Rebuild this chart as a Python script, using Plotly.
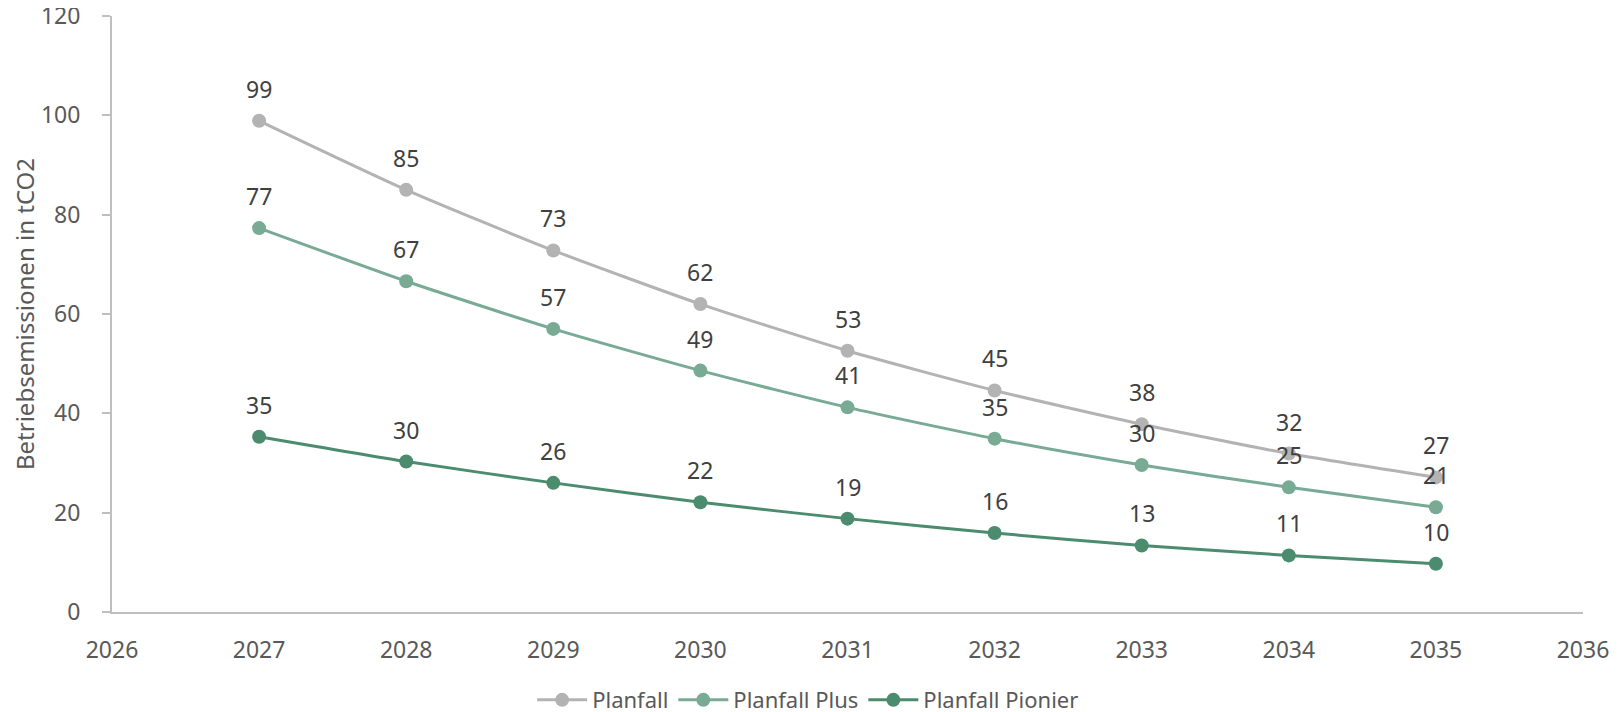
import plotly.graph_objects as go

years = [2027, 2028, 2029, 2030, 2031, 2032, 2033, 2034, 2035]
planfall = [98.9, 85.0, 72.8, 62.0, 52.6, 44.6, 37.8, 31.9, 27.1]
planfall_plus = [77.3, 66.6, 57.0, 48.6, 41.2, 34.9, 29.6, 25.1, 21.1]
planfall_pionier = [35.3, 30.3, 26.0, 22.1, 18.8, 15.9, 13.4, 11.4, 9.7]

series = [
    ("Planfall", planfall, "#b3b3b3"),
    ("Planfall Plus", planfall_plus, "#78aa94"),
    ("Planfall Pionier", planfall_pionier, "#4a8c6d"),
]

FONT = "Noto Sans"
fig = go.Figure()
annotations = []
for name, vals, col in series:
    fig.add_trace(go.Scatter(
        x=years, y=vals, name=name, mode="lines+markers",
        line=dict(color=col, width=3, shape="spline", smoothing=0.6),
        marker=dict(color=col, size=14),
    ))
    for x, v in zip(years, vals):
        annotations.append(dict(
            x=x, y=v, text=str(round(v)), showarrow=False, yshift=32,
            font=dict(family=FONT, size=23, color="#404040"),
        ))

fig.update_layout(
    width=1623, height=712,
    margin=dict(l=104, r=48, t=8, b=108, autoexpand=False),
    paper_bgcolor="white", plot_bgcolor="white",
    font=dict(family=FONT, size=23, color="#595959"),
    annotations=annotations,
    showlegend=True,
    legend=dict(orientation="h", xref="container", yref="container",
                x=0.493, xanchor="center", y=0.028, yanchor="middle",
                itemwidth=50,
                font=dict(family=FONT, size=22, color="#595959"), traceorder="normal"),
    xaxis=dict(range=[2026, 2036], dtick=1, tick0=2026, showgrid=False, zeroline=False,
               showline=True, linecolor="#bfbfbf", linewidth=2, automargin=False,
               ticklabeloverflow="allow",
               ticks="", ticklabelstandoff=16, tickfont=dict(size=23, color="#595959")),
    yaxis=dict(range=[0, 120], dtick=20, showgrid=False, zeroline=False,
               showline=True, linecolor="#bfbfbf", linewidth=2, automargin=False,
               ticklabeloverflow="allow",
               ticks="outside", ticklen=8, tickcolor="#bfbfbf", tickwidth=2,
               ticklabelstandoff=17, tickfont=dict(size=23, color="#595959"),
               title=dict(text="Betriebsemissionen in tCO2", standoff=8,
                          font=dict(size=24, color="#595959"))),
)

fig.write_html("out.html")
